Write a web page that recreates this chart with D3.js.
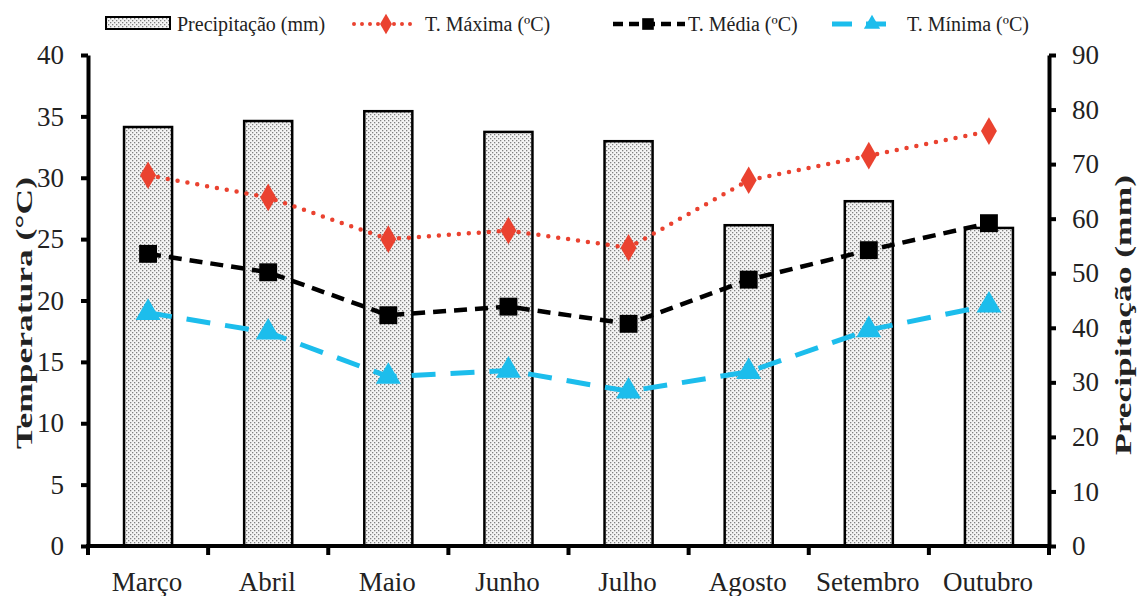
<!DOCTYPE html>
<html>
<head>
<meta charset="utf-8">
<script src="https://cdn.jsdelivr.net/npm/d3@7"></script>
<style>
  html, body { margin: 0; padding: 0; background: #fff; }
  svg { display: block; font-family: "Liberation Serif", "Times New Roman", serif; }
</style>
</head>
<body>
<svg id="chart" width="1138" height="596"></svg>
<script>
// Monthly climate data
const months = ["Março", "Abril", "Maio", "Junho", "Julho", "Agosto", "Setembro", "Outubro"];
const precipitacao = [76.8, 77.9, 79.7, 75.9, 74.2, 58.8, 63.2, 58.3];
const tMaxima = [30.2, 28.4, 25.0, 25.7, 24.3, 29.8, 31.8, 33.8];
const tMedia = [23.8, 22.3, 18.8, 19.5, 18.1, 21.7, 24.1, 26.3];
const tMinima = [19.0, 17.4, 13.8, 14.3, 12.6, 14.2, 17.6, 19.6];
const tempTicks = [0, 5, 10, 15, 20, 25, 30, 35, 40];
const precTicks = [0, 10, 20, 30, 40, 50, 60, 70, 80, 90];

const svg = d3.select("#chart");
const plotLeft = 88, plotRight = 1049, plotTop = 55, plotBottom = 546;

const x = d3.scaleBand().domain(months).range([plotLeft, plotRight])
  .paddingInner(0.6).paddingOuter(0.3);
const yT = d3.scaleLinear().domain([0, 40]).range([plotBottom, plotTop]);
const yP = d3.scaleLinear().domain([0, 90]).range([plotBottom, plotTop]);
const cx = m => x(m) + x.bandwidth() / 2;

// Dotted fill for precipitation bars
const defs = svg.append("defs");
const pat = defs.append("pattern").attr("id", "dots")
  .attr("width", 4).attr("height", 4).attr("patternUnits", "userSpaceOnUse");
pat.append("rect").attr("width", 4).attr("height", 4).attr("fill", "#f4f4f4");
pat.append("rect").attr("x", 0).attr("y", 0).attr("width", 1.3).attr("height", 1.3).attr("fill", "#808080");
pat.append("rect").attr("x", 2).attr("y", 2).attr("width", 1.3).attr("height", 1.3).attr("fill", "#808080");

// Bars
svg.append("g").selectAll("rect").data(months).join("rect")
  .attr("x", m => x(m))
  .attr("y", (m, i) => yP(precipitacao[i]))
  .attr("width", x.bandwidth())
  .attr("height", (m, i) => plotBottom - yP(precipitacao[i]))
  .attr("fill", "url(#dots)")
  .attr("stroke", "#000").attr("stroke-width", 2.5);

// Marker shapes
const diamond = d3.symbol().type(d3.symbolDiamond).size(220);
const square = d3.symbol().type(d3.symbolSquare).size(320);
const triangle = d3.symbol().type(d3.symbolTriangle).size(270);

function drawSeries(values, color, width, dash, cap, sym) {
  const line = d3.line().x((d, i) => cx(months[i])).y(d => yT(d));
  const g = svg.append("g");
  g.append("path").datum(values).attr("d", line)
    .attr("fill", "none").attr("stroke", color).attr("stroke-width", width)
    .attr("stroke-dasharray", dash).attr("stroke-linecap", cap);
  g.selectAll("path.mk").data(values).join("path").attr("class", "mk")
    .attr("d", sym)
    .attr("transform", (d, i) => `translate(${cx(months[i])},${yT(d)})`)
    .attr("fill", color);
}

const RED = "#ea4230", BLACK = "#000", BLUE = "#1cbdec";
drawSeries(tMaxima, RED, 4.5, "0 10", "round", diamond);
drawSeries(tMedia, BLACK, 4.5, "13 8", "butt", square);
drawSeries(tMinima, BLUE, 5, "24 15", "butt", triangle);

// Axes
const tickFont = g => g.selectAll("text")
  .attr("font-size", 27).attr("fill", "#222")
  .attr("font-family", "Liberation Serif, Times New Roman, serif");
const axisStyle = g => {
  g.select(".domain").attr("stroke", "#000").attr("stroke-width", 4);
  g.selectAll(".tick line").attr("stroke", "#000").attr("stroke-width", 4);
};

svg.append("g").attr("transform", `translate(${plotLeft},0)`)
  .call(d3.axisLeft(yT).tickValues(tempTicks).tickSize(7).tickPadding(17).tickSizeOuter(0))
  .call(axisStyle).call(tickFont);

svg.append("g").attr("transform", `translate(${plotRight},0)`)
  .call(d3.axisRight(yP).tickValues(precTicks).tickSize(7).tickPadding(16).tickSizeOuter(0))
  .call(axisStyle).call(tickFont);

// Category axis: labels at band centres, tick marks on band boundaries
const xAxis = svg.append("g").attr("transform", `translate(0,${plotBottom})`);
xAxis.append("line").attr("x1", plotLeft - 2).attr("x2", plotRight + 2)
  .attr("stroke", "#000").attr("stroke-width", 4);
xAxis.selectAll("line.tk").data(d3.range(months.length + 1)).join("line").attr("class", "tk")
  .attr("x1", i => x.range()[0] + i * x.step()).attr("x2", i => x.range()[0] + i * x.step())
  .attr("y1", 0).attr("y2", 9).attr("stroke", "#000").attr("stroke-width", 4);
xAxis.selectAll("text").data(months).join("text")
  .attr("x", m => cx(m) - 1).attr("y", 45)
  .attr("text-anchor", "middle").attr("font-size", 27).attr("fill", "#222")
  .text(m => m);

// Axis titles
svg.append("text").attr("transform", "translate(32,313) rotate(-90)")
  .attr("text-anchor", "middle").attr("font-size", 23).attr("font-weight", "bold")
  .attr("textLength", 272).attr("lengthAdjust", "spacingAndGlyphs")
  .attr("fill", "#222").text("Temperatura (°C)");
svg.append("text").attr("transform", "translate(1131,315) rotate(-90)")
  .attr("text-anchor", "middle").attr("font-size", 23).attr("font-weight", "bold")
  .attr("textLength", 280).attr("lengthAdjust", "spacingAndGlyphs")
  .attr("fill", "#222").text("Precipitação (mm)");

// Legend
const lg = svg.append("g").attr("font-size", 20).attr("fill", "#222");
const ly = 24;
lg.append("rect").attr("x", 106).attr("y", 17).attr("width", 64).attr("height", 12)
  .attr("fill", "url(#dots)").attr("stroke", "#000").attr("stroke-width", 2);
lg.append("text").attr("x", 177).attr("y", ly + 7).text("Precipitação (mm)");

function legendLine(x1, x2, mx, color, width, dash, cap, sym, scale) {
  lg.append("line").attr("x1", x1).attr("x2", x2).attr("y1", ly).attr("y2", ly)
    .attr("stroke", color).attr("stroke-width", width)
    .attr("stroke-dasharray", dash).attr("stroke-linecap", cap);
  lg.append("path").attr("d", sym)
    .attr("transform", `translate(${mx},${ly}) scale(${scale})`).attr("fill", color);
}
legendLine(354, 414, 386, RED, 4, "0 8", "round", diamond, 0.75);
lg.append("text").attr("x", 425).attr("y", ly + 7).text("T. Máxima (ºC)");
legendLine(613, 685, 648, BLACK, 4.5, "10 6", "butt", square, 0.65);
lg.append("text").attr("x", 688).attr("y", ly + 7).text("T. Média (ºC)");
legendLine(832, 887, 872, BLUE, 5, "20 14", "butt", triangle, 0.65);
lg.append("text").attr("x", 907).attr("y", ly + 7).text("T. Mínima (ºC)");
</script>
</body>
</html>
